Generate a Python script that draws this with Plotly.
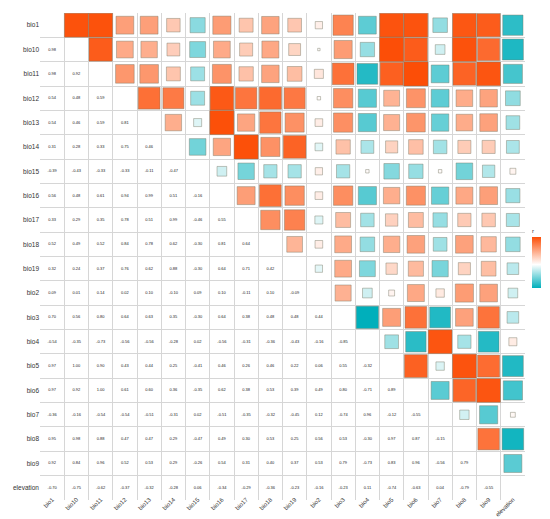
import numpy as np
import plotly.graph_objects as go

# variables, dans l'ordre des lignes / colonnes
labels = ["bio1", "bio10", "bio11", "bio12", "bio13", "bio14", "bio15", "bio16",
          "bio17", "bio18", "bio19", "bio2", "bio3", "bio4", "bio5", "bio6",
          "bio7", "bio8", "bio9", "elevation"]

# triangle inférieur de la matrice de corrélation (ligne i, colonnes 0..i-1)
r_bio10 = [0.98]
r_bio11 = [0.98, 0.92]
r_bio12 = [0.54, 0.48, 0.59]
r_bio13 = [0.54, 0.46, 0.59, 0.81]
r_bio14 = [0.31, 0.28, 0.33, 0.75, 0.46]
r_bio15 = [-0.39, -0.43, -0.33, -0.33, -0.11, -0.47]
r_bio16 = [0.56, 0.48, 0.61, 0.94, 0.99, 0.51, -0.16]
r_bio17 = [0.33, 0.29, 0.35, 0.78, 0.51, 0.99, -0.46, 0.55]
r_bio18 = [0.52, 0.49, 0.52, 0.84, 0.78, 0.62, -0.30, 0.81, 0.64]
r_bio19 = [0.32, 0.24, 0.37, 0.76, 0.62, 0.88, -0.30, 0.64, 0.71, 0.42]
r_bio2 = [0.09, 0.01, 0.14, 0.02, 0.10, -0.10, 0.09, 0.10, -0.11, 0.10, -0.09]
r_bio3 = [0.70, 0.56, 0.80, 0.64, 0.63, 0.35, -0.30, 0.64, 0.38, 0.48, 0.48, 0.44]
r_bio4 = [-0.54, -0.35, -0.73, -0.56, -0.56, -0.28, 0.02, -0.56, -0.31, -0.36,
          -0.43, -0.16, -0.85]
r_bio5 = [0.97, 1.00, 0.90, 0.43, 0.44, 0.25, -0.41, 0.46, 0.26, 0.46, 0.22,
          0.06, 0.55, -0.32]
r_bio6 = [0.97, 0.92, 1.00, 0.61, 0.60, 0.36, -0.35, 0.62, 0.38, 0.53, 0.39,
          0.49, 0.80, -0.71, 0.89]
r_bio7 = [-0.36, -0.16, -0.54, -0.54, -0.51, -0.31, 0.02, -0.51, -0.35, -0.32,
          -0.45, 0.12, -0.74, 0.96, -0.12, -0.55]
r_bio8 = [0.95, 0.98, 0.88, 0.47, 0.47, 0.29, -0.47, 0.49, 0.30, 0.53, 0.25,
          0.56, 0.53, -0.30, 0.97, 0.87, -0.15]
r_bio9 = [0.92, 0.84, 0.96, 0.52, 0.53, 0.29, -0.26, 0.54, 0.31, 0.40, 0.37,
          0.53, 0.79, -0.73, 0.83, 0.96, -0.56, 0.79]
r_elev = [-0.70, -0.75, -0.62, -0.37, -0.32, -0.28, 0.06, -0.34, -0.29, -0.36,
          -0.23, -0.16, -0.23, 0.11, -0.74, -0.63, 0.04, -0.79, -0.55]

lower = [[], r_bio10, r_bio11, r_bio12, r_bio13, r_bio14, r_bio15, r_bio16,
         r_bio17, r_bio18, r_bio19, r_bio2, r_bio3, r_bio4, r_bio5, r_bio6,
         r_bio7, r_bio8, r_bio9, r_elev]

n = len(labels)
M = np.eye(n)
for i, row in enumerate(lower):
    for j, v in enumerate(row):
        M[i, j] = v
        M[j, i] = v

# dimensions (px)
W, H = 550, 519
ml, mr, mt, mb = 32, 33, 5, 27
cell = (W - ml - mr) / n
plot_h = H - mt - mb

# carrés : triangle supérieur ; texte : triangle inférieur
sx, sy, sv, ss = [], [], [], []
tx, ty, tt = [], [], []
for i in range(n):
    for j in range(n):
        if j > i:
            sx.append(j); sy.append(i); sv.append(M[i, j])
            ss.append(cell * np.sqrt(abs(M[i, j])))
        elif j < i:
            tx.append(j); ty.append(i); tt.append(f"{M[i, j]:.2f}")

vals = [v for row in lower for v in row]
vmin, vmax = min(vals), max(vals)
mid = (0 - vmin) / (vmax - vmin)
colorscale = [[0, "#00AFBB"], [mid, "#FFFFFF"], [1, "#FC4E07"]]

fig = go.Figure()
fig.add_trace(go.Scatter(
    x=sx, y=sy, mode="markers",
    marker=dict(symbol="square", size=ss, color=sv, colorscale=colorscale,
                cmin=vmin, cmax=vmax, opacity=1,
                line=dict(color="rgba(120,120,100,0.55)", width=0.8),
                showscale=True,
                colorbar=dict(title=dict(text="r", side="top",
                                         font=dict(size=6, color="#333")),
                              thickness=9, lenmode="pixels", len=62,
                              xpad=0, ypad=0,
                              x=(524 - ml) / (W - ml - mr), xanchor="left",
                              y=(H - mb - 248.5) / plot_h, yanchor="middle",
                              outlinewidth=0, tickvals=[-0.5, 0, 0.5],
                              ticktext=["-0.5", "0.0", "0.5"], ticks="",
                              tickfont=dict(size=5, color="#4D4D4D"))),
    hovertemplate="%{y} / %{x}: %{marker.color:.2f}<extra></extra>",
    showlegend=False,
))
fig.add_trace(go.Scatter(
    x=tx, y=ty, mode="text", text=tt,
    textfont=dict(size=4, color="#222"),
    hoverinfo="skip", showlegend=False,
))

axis_common = dict(
    tickmode="array", tickvals=list(range(n)), ticktext=labels,
    showgrid=False, zeroline=False, showline=False, ticks="",
    minor=dict(tick0=0.5, dtick=1, showgrid=True, gridcolor="#D6D6D6",
               gridwidth=0.8, ticks=""),
    automargin=False,
)
fig.update_xaxes(range=[-0.5, n - 0.5], tickangle=-45, ticklabelstandoff=-6,
                 tickfont=dict(size=6, color="#333"), **axis_common)
fig.update_yaxes(range=[n - 0.5, -0.5],
                 tickfont=dict(size=6.5, color="#333"), **axis_common)

fig.update_layout(
    width=W, height=H,
    margin=dict(l=ml, r=mr, t=mt, b=mb),
    plot_bgcolor="white", paper_bgcolor="white",
    font=dict(family="Liberation Sans, Arial, sans-serif"),
)

fig.write_html("out.html")
